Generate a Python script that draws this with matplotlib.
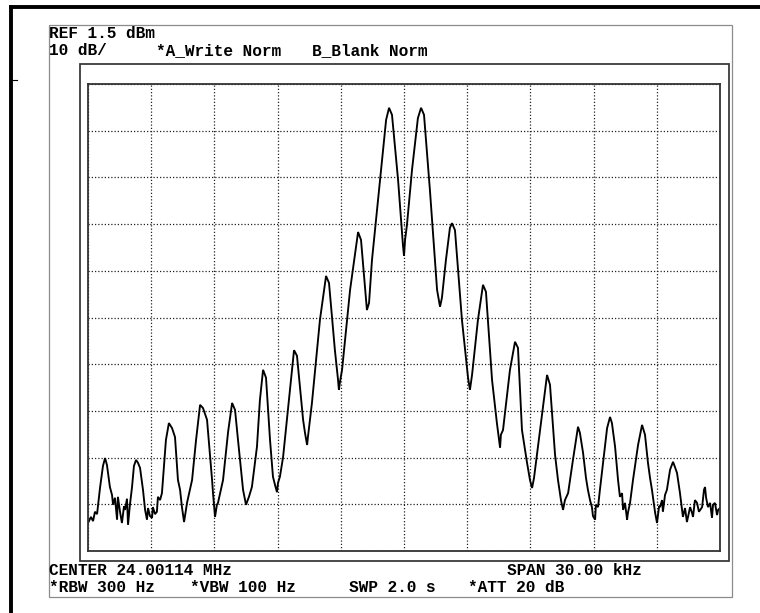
import matplotlib
matplotlib.use("Agg")
import numpy as np
import matplotlib.pyplot as plt
from matplotlib.patches import Rectangle
from matplotlib.lines import Line2D

# Analyzer screen settings
ref_level_dbm = 1.5
db_per_div = 10
span_khz = 30.0
n_div = 10

# Trace A: offset from center frequency (kHz) and level (dBm)
trace_khz = [
    -15.00, -14.86, -14.76, -14.67, -14.57, -14.43, -14.29, -14.19, -14.10, -13.96,
    -13.86, -13.81, -13.72, -13.62, -13.58, -13.48, -13.39, -13.29, -13.24, -13.15,
    -13.10, -13.01, -12.91, -12.82, -12.72, -12.63, -12.53, -12.39, -12.29, -12.20,
    -12.15, -12.06, -11.96, -11.92, -11.82, -11.73, -11.68, -11.58, -11.49, -11.30,
    -11.16, -11.01, -10.87, -10.73, -10.63, -10.54, -10.44, -10.35, -10.30, -10.06,
    -9.87, -9.68, -9.54, -9.35, -9.11, -9.07, -8.97, -8.88, -8.83, -8.59,
    -8.35, -8.16, -8.02, -7.88, -7.64, -7.50, -7.36, -7.22, -6.98, -6.84,
    -6.69, -6.55, -6.36, -6.22, -6.12, -6.03, -5.98, -5.89, -5.74, -5.41,
    -5.22, -5.08, -4.79, -4.70, -4.60, -4.56, -4.37, -3.99, -3.70, -3.56,
    -3.28, -3.13, -3.09, -3.04, -2.94, -2.56, -2.18, -2.04, -1.80, -1.76,
    -1.66, -1.52, -1.14, -0.85, -0.71, -0.57, -0.28, -0.09, -0.05, 0.00,
    0.05, 0.14, 0.38, 0.66, 0.81, 0.95, 1.23, 1.57, 1.71, 1.80,
    1.99, 2.18, 2.28, 2.42, 2.75, 3.04, 3.13, 3.23, 3.51, 3.75,
    3.89, 4.18, 4.41, 4.56, 4.60, 4.70, 5.03, 5.27, 5.41, 5.60,
    5.84, 5.98, 6.08, 6.17, 6.46, 6.79, 6.93, 7.17, 7.31, 7.45,
    7.55, 7.64, 7.79, 8.02, 8.26, 8.35, 8.50, 8.64, 8.73, 8.83,
    8.92, 8.97, 9.07, 9.11, 9.21, 9.30, 9.45, 9.64, 9.78, 9.87,
    10.02, 10.16, 10.25, 10.35, 10.40, 10.49, 10.59, 10.63, 10.73, 10.87,
    11.11, 11.30, 11.44, 11.58, 11.68, 11.77, 11.92, 12.01, 12.11, 12.15,
    12.25, 12.29, 12.39, 12.48, 12.63, 12.77, 12.86, 12.96, 13.10, 13.24,
    13.34, 13.43, 13.58, 13.67, 13.72, 13.81, 13.91, 14.00, 14.15, 14.24,
    14.29, 14.34, 14.43, 14.53, 14.62, 14.67, 14.76, 14.86, 14.91, 15.00,
]
trace_dbm = [
    -92.5, -91.2, -92.1, -90.1, -90.6, -85.0, -80.3, -78.6, -80.1, -84.8,
    -86.5, -88.6, -87.1, -91.8, -86.9, -90.1, -92.5, -88.9, -89.7, -87.3,
    -92.9, -88.6, -84.8, -80.3, -79.0, -79.6, -80.7, -85.4, -89.7, -91.8,
    -89.3, -91.0, -91.4, -89.1, -90.6, -90.1, -86.9, -87.6, -86.1, -74.7,
    -71.1, -72.2, -74.1, -83.3, -85.4, -89.1, -92.3, -89.7, -88.2, -83.3,
    -74.7, -67.2, -67.9, -70.4, -83.3, -85.9, -91.2, -88.6, -88.2, -83.3,
    -73.0, -66.8, -68.3, -74.7, -85.4, -88.6, -86.9, -84.8, -76.2, -66.2,
    -59.7, -61.4, -74.7, -82.6, -84.4, -85.9, -83.9, -82.6, -78.4, -64.0,
    -55.5, -56.7, -70.4, -73.2, -75.8, -74.1, -66.8, -49.0, -39.6, -41.1,
    -55.5, -61.9, -64.0, -62.3, -59.7, -42.6, -30.2, -31.9, -44.7, -46.9,
    -45.4, -36.2, -19.1, -6.2, -3.6, -5.1, -19.1, -30.8, -33.0, -35.3,
    -31.9, -28.7, -16.9, -5.8, -3.6, -5.1, -21.2, -42.6, -46.2, -44.3,
    -36.2, -29.3, -28.3, -29.8, -49.0, -61.4, -64.0, -60.8, -49.0, -41.5,
    -43.0, -61.9, -71.1, -76.4, -73.6, -72.6, -59.7, -53.7, -55.0, -72.6,
    -79.6, -83.3, -85.0, -82.9, -72.6, -60.8, -62.9, -77.9, -83.3, -87.6,
    -89.7, -87.6, -86.1, -79.0, -71.9, -73.2, -77.5, -82.9, -85.4, -87.6,
    -89.1, -91.0, -91.8, -88.6, -89.1, -85.4, -79.6, -72.2, -69.8, -71.1,
    -76.2, -83.3, -86.9, -86.1, -89.7, -88.2, -91.8, -90.3, -88.2, -83.3,
    -75.8, -71.5, -73.6, -79.6, -82.9, -85.4, -90.3, -92.5, -88.9, -89.1,
    -87.6, -90.1, -86.5, -85.4, -81.1, -79.4, -80.5, -81.8, -86.1, -91.2,
    -89.3, -92.3, -89.1, -90.3, -91.2, -87.6, -88.2, -90.1, -89.1, -85.4,
    -84.8, -87.1, -89.1, -88.2, -91.4, -88.6, -88.2, -90.8, -89.7, -89.3,
]

header_ref = "REF 1.5 dBm"
header_scale = "10 dB/"
header_traces = ["*A_Write Norm", "B_Blank Norm"]
footer_top = ["CENTER 24.00114 MHz", "SPAN 30.00 kHz"]
footer_bottom = ["*RBW 300 Hz", "*VBW 100 Hz", "SWP 2.0 s", "*ATT 20 dB"]

W, H = 760, 613


def fx(px):
    return px / W


def fy(py):
    return 1 - py / H


fig = plt.figure(figsize=(W / 100, H / 100), dpi=100)
fig.patch.set_facecolor("white")

# graticule
ax = fig.add_axes([fx(88), fy(551), fx(720) - fx(88), fy(84) - fy(551)])
bottom_dbm = ref_level_dbm - n_div * db_per_div
ax.set_xlim(-span_khz / 2, span_khz / 2)
ax.set_ylim(bottom_dbm, ref_level_dbm)
ax.set_xticks(np.linspace(-span_khz / 2, span_khz / 2, n_div + 1))
ax.set_yticks(np.linspace(bottom_dbm, ref_level_dbm, n_div + 1))
ax.tick_params(length=0, labelbottom=False, labelleft=False)
ax.grid(True, color="#222222", linestyle=(0, (1.0, 1.6)), linewidth=0.9)
for sp in ax.spines.values():
    sp.set_color("#333333")
    sp.set_linewidth(1.3)

ax.plot(trace_khz, trace_dbm, color="black", linewidth=1.35, solid_joinstyle="miter")

# screen frames
fig.add_artist(Rectangle((fx(49), fy(597)), fx(732) - fx(49), fy(25) - fy(597),
                         transform=fig.transFigure, fill=False,
                         edgecolor="#8c8c8c", linewidth=0.9))
fig.add_artist(Rectangle((fx(80), fy(561)), fx(729) - fx(80), fy(64) - fy(561),
                         transform=fig.transFigure, fill=False,
                         edgecolor="#3a3a3a", linewidth=1.3))
fig.add_artist(Line2D([fx(9), 1], [fy(6.5), fy(6.5)], transform=fig.transFigure,
                      color="black", linewidth=2.8, solid_capstyle="butt"))
fig.add_artist(Line2D([fx(10.5), fx(10.5)], [0, fy(5)], transform=fig.transFigure,
                      color="black", linewidth=2.8, solid_capstyle="butt"))
fig.add_artist(Line2D([fx(11), fx(17)], [fy(80), fy(80)], transform=fig.transFigure,
                      color="black", linewidth=0.8))

txt = dict(family="Liberation Mono", fontsize=11.6, fontweight="bold",
           color="black", va="baseline")
fig.text(fx(49), fy(38), header_ref, **txt)
fig.text(fx(49), fy(55), header_scale, **txt)
fig.text(fx(156), fy(55), header_traces[0], **txt)
fig.text(fx(312), fy(55), header_traces[1], **txt)

fig.text(fx(49), fy(575), footer_top[0], **txt)
fig.text(fx(507), fy(575), footer_top[1], **txt)
for x_px, label in zip([49, 190, 349, 468], footer_bottom):
    fig.text(fx(x_px), fy(592), label, **txt)

fig.savefig("out.png", dpi=100)
